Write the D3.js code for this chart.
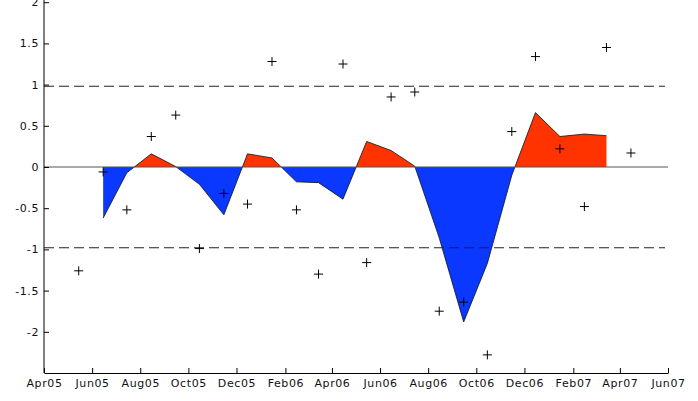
<!DOCTYPE html>
<html>
<head>
<meta charset="utf-8">
<script src="https://cdn.jsdelivr.net/npm/d3@7"></script>
<style>
  html, body { margin: 0; padding: 0; background: #fff; }
  svg text { font-family: "DejaVu Sans", sans-serif; font-size: 11px; letter-spacing: 0.6px; fill: #111; }
</style>
</head>
<body>
<svg id="chart" width="698" height="401"></svg>
<script>
// monthly series, values (mid-month dates)
const areaMonths = ['2005-06', '2005-07', '2005-08', '2005-09', '2005-10', '2005-11', '2005-12',
  '2006-01', '2006-02', '2006-03', '2006-04', '2006-05', '2006-06', '2006-07', '2006-08', '2006-09',
  '2006-10', '2006-11', '2006-12', '2007-01', '2007-02', '2007-03'];
const areaValues = [-0.62, -0.07, 0.16, 0.005, -0.21, -0.58, 0.16,
  0.11, -0.18, -0.19, -0.39, 0.31, 0.20, 0.01, -0.86, -1.88,
  -1.17, -0.10, 0.66, 0.37, 0.40, 0.38];

const crossMonths = ['2005-05', '2005-06', '2005-07', '2005-08', '2005-09', '2005-10', '2005-11', '2005-12',
  '2006-01', '2006-02', '2006-03', '2006-04', '2006-05', '2006-06', '2006-07', '2006-08', '2006-09',
  '2006-10', '2006-11', '2006-12', '2007-01', '2007-02', '2007-03', '2007-04'];
const crossValues = [-1.26, -0.06, -0.52, 0.37, 0.63, -0.99, -0.32, -0.45,
  1.28, -0.52, -1.30, 1.25, -1.16, 0.85, 0.91, -1.75, -1.64,
  -2.28, 0.43, 1.34, 0.22, -0.48, 1.45, 0.17];

const thresholds = [0.98, -0.98];
const yTicks = [2, 1.5, 1, 0.5, 0, -0.5, -1, -1.5, -2];
const xStart = '2005-04-01';
const xEnd = '2007-06-01';

const parseMonth = d3.timeParse('%Y-%m');
const parseDay = d3.timeParse('%Y-%m-%d');
const mid = m => d3.timeDay.offset(parseMonth(m), 14);

const areaData = areaMonths.map((m, i) => ({ date: mid(m), value: areaValues[i] }));
const crossData = crossMonths.map((m, i) => ({ date: mid(m), value: crossValues[i] }));

const svg = d3.select('#chart');
const margin = { top: 2.2, right: 30, bottom: 28, left: 44 };
const width = +svg.attr('width');
const height = +svg.attr('height');

const x = d3.scaleTime()
  .domain([parseDay(xStart), parseDay(xEnd)])
  .range([margin.left, width - margin.right]);

const y = d3.scaleLinear()
  .domain([-2.5, 2])
  .range([height - margin.bottom, margin.top]);

const xTicks = d3.timeMonth.range(parseDay(xStart), d3.timeDay.offset(parseDay(xEnd), 1), 2);

// clip regions for positive / negative fill
const defs = svg.append('defs');
defs.append('clipPath').attr('id', 'above')
  .append('rect')
  .attr('x', 0).attr('y', 0)
  .attr('width', width).attr('height', y(0));
defs.append('clipPath').attr('id', 'below')
  .append('rect')
  .attr('x', 0).attr('y', y(0))
  .attr('width', width).attr('height', height - y(0));

const area = d3.area()
  .x(d => x(d.date))
  .y0(y(0))
  .y1(d => y(d.value));

const line = d3.line()
  .x(d => x(d.date))
  .y(d => y(d.value));

svg.append('path')
  .datum(areaData)
  .attr('clip-path', 'url(#above)')
  .attr('fill', '#ff3300')
  .attr('d', area);

svg.append('path')
  .datum(areaData)
  .attr('clip-path', 'url(#below)')
  .attr('fill', '#0a38ff')
  .attr('d', area);

svg.append('path')
  .datum(areaData)
  .attr('fill', 'none')
  .attr('stroke', '#111')
  .attr('stroke-width', 0.8)
  .attr('d', line);

// zero line
svg.append('line')
  .attr('x1', x.range()[0]).attr('x2', x.range()[1])
  .attr('y1', y(0)).attr('y2', y(0))
  .attr('stroke', '#555')
  .attr('stroke-width', 1);

// dashed thresholds
svg.selectAll('.thr')
  .data(thresholds)
  .enter()
  .append('line')
  .attr('class', 'thr')
  .attr('x1', x.range()[0]).attr('x2', x.range()[1] - 3)
  .attr('y1', d => y(d)).attr('y2', d => y(d))
  .attr('stroke', '#222')
  .attr('stroke-width', 1)
  .attr('stroke-dasharray', '10,5');

// crosses
svg.selectAll('.cross')
  .data(crossData)
  .enter()
  .append('path')
  .attr('class', 'cross')
  .attr('transform', d => `translate(${x(d.date)},${y(d.value)})`)
  .attr('d', 'M-4.5,0H4.5M0,-4.5V4.5')
  .attr('fill', 'none')
  .attr('stroke', '#000')
  .attr('stroke-width', 1);

// axes
svg.append('g')
  .attr('transform', `translate(0,${y(-2.5)})`)
  .call(d3.axisBottom(x)
    .tickValues(xTicks)
    .tickFormat(d3.timeFormat('%b%y'))
    .tickSizeInner(-5).tickSizeOuter(0).tickPadding(6));

const yAxis = svg.append('g')
  .attr('transform', `translate(${margin.left},0)`)
  .call(d3.axisLeft(y)
    .tickValues(yTicks)
    .tickFormat(d => String(d))
    .tickSizeInner(-5).tickSizeOuter(0).tickPadding(5));

yAxis.select('.domain').attr('d', `M0,${y(-2.5)}V0`);
svg.selectAll('.domain').attr('stroke', '#000');
svg.selectAll('.tick line').attr('stroke', '#000');
svg.selectAll('.tick text').attr('fill', '#111');
</script>
</body>
</html>
